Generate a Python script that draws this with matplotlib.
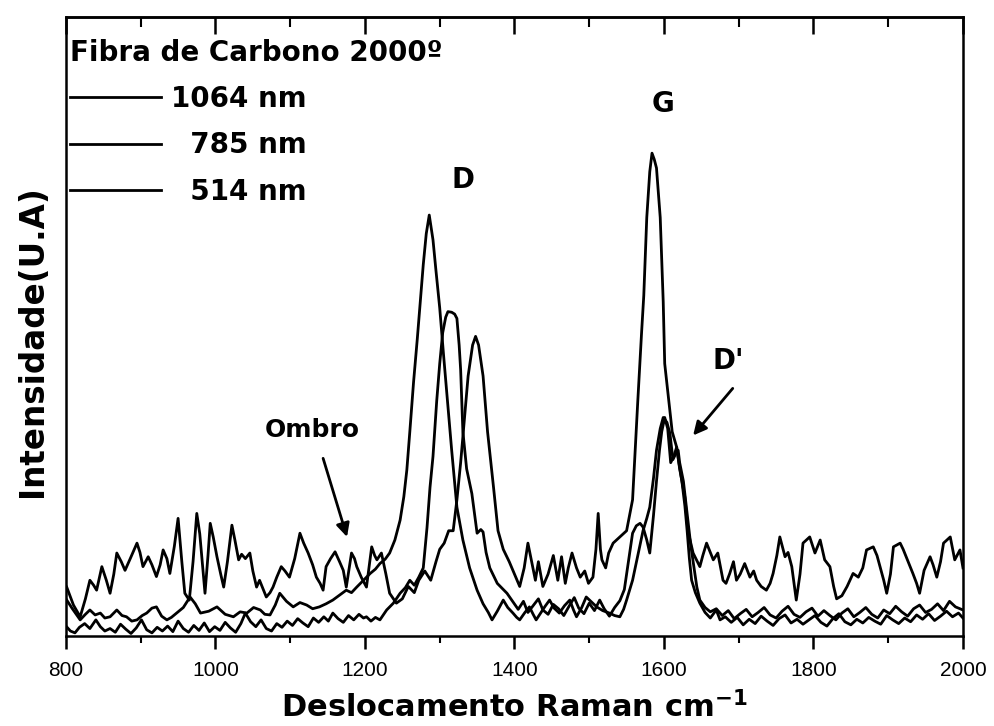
"""Raman spectra of a carbon fibre (2000 C) at three excitation lines."""

import matplotlib

matplotlib.use("Agg")
import matplotlib.pyplot as plt
from matplotlib.ticker import MultipleLocator

# 1064 nm excitation: D band ~1285, weak G near 1600
WN_1064 = [
    800, 808, 819, 826, 832, 839, 846, 852, 859, 868,
    875, 881, 888, 895, 902, 908, 915, 921, 928, 935,
    941, 948, 957, 966, 973, 980, 991, 1002, 1013, 1024,
    1033, 1042, 1051, 1060, 1066, 1073, 1080, 1086, 1095, 1104,
    1113, 1122, 1130, 1139, 1148, 1157, 1166, 1175, 1182, 1189,
    1198, 1207, 1214, 1220, 1227, 1233, 1240, 1247, 1252, 1256,
    1260, 1265, 1270, 1274, 1278, 1282, 1286, 1291, 1295, 1300,
    1305, 1310, 1316, 1323, 1331, 1340, 1350, 1358, 1365, 1370,
    1377, 1385, 1391, 1398, 1403, 1407, 1414, 1420, 1425, 1429,
    1436, 1441, 1447, 1453, 1460, 1467, 1474, 1479, 1483, 1490,
    1496, 1503, 1510, 1518, 1527, 1534, 1541, 1546, 1550, 1558,
    1565, 1572, 1577, 1581, 1586, 1590, 1595, 1599, 1604, 1608,
    1612, 1616, 1619, 1621, 1626, 1631, 1636, 1640, 1644, 1648,
    1655, 1662, 1670, 1678, 1686, 1694, 1702, 1710, 1718, 1726,
    1734, 1742, 1750, 1758, 1766, 1774, 1782, 1790, 1798, 1806,
    1814, 1822, 1830, 1838, 1846, 1854, 1862, 1870, 1878, 1886,
    1894, 1902, 1910, 1918, 1926, 1934, 1942, 1950, 1958, 1966,
    1974, 1982, 1990, 2000,
]
INT_1064 = [
    6.0, 4.5, 2.6, 3.5, 4.2, 3.4, 3.7, 2.9, 3.1, 4.2,
    3.3, 3.1, 2.4, 2.6, 3.3, 3.7, 4.5, 4.7, 3.2, 2.6,
    3.0, 3.7, 4.6, 6.3, 5.2, 3.7, 4.0, 4.7, 3.5, 3.1,
    3.9, 3.7, 4.6, 4.2, 3.5, 3.4, 5.0, 6.9, 5.6, 4.7,
    5.4, 5.0, 4.4, 4.7, 5.2, 5.8, 6.6, 7.4, 7.0, 7.9,
    9.0, 10.1, 10.8, 11.7, 12.4, 13.4, 15.5, 18.7, 22.5, 26.8,
    33.0, 41.0, 48.0, 54.0, 60.0, 65.0, 68.0, 64.0, 59.0, 53.0,
    45.6, 38.5, 30.0, 20.8, 15.5, 11.0, 7.4, 5.2, 3.8, 2.6,
    4.0, 5.8, 4.6, 3.7, 3.0, 2.6, 3.8, 4.7, 3.5, 2.6,
    3.9, 4.8, 5.8, 4.5, 3.7, 4.9, 5.8, 4.2, 3.1, 4.6,
    6.3, 5.5, 4.7, 4.1, 3.7, 3.3, 3.1, 4.3, 5.8, 9.0,
    13.0, 17.0, 19.0, 20.8, 25.5, 30.0, 33.5, 35.3, 34.5, 32.7,
    28.5, 29.5, 30.0, 28.0, 25.0, 19.8, 14.5, 11.2, 7.9, 5.8,
    4.6, 3.9, 4.4, 3.3, 4.1, 2.8, 3.6, 4.3, 3.1, 3.8,
    4.6, 3.4, 2.9, 4.0, 4.8, 3.5, 3.0, 3.9, 4.5, 3.2,
    4.1, 3.3, 2.6, 3.7, 4.4, 3.1, 3.8, 4.6, 3.5, 2.9,
    4.2, 3.6, 4.8, 3.9, 3.2, 4.4, 5.0, 3.8, 4.3, 5.2,
    4.1, 5.6, 4.7, 4.2,
]

# 785 nm excitation: D band ~1310, weak G near 1600, quiet baseline
WN_785 = [
    800, 806, 812, 818, 825, 832, 840, 846, 852, 859,
    866, 873, 880, 887, 894, 901, 908, 915, 922, 929,
    936, 943, 950, 957, 964, 971, 978, 985, 992, 999,
    1006, 1013, 1020, 1027, 1034, 1040, 1047, 1054, 1061, 1068,
    1075, 1082, 1089, 1096, 1103, 1110, 1117, 1124, 1131, 1138,
    1145, 1151, 1157, 1164, 1171, 1178, 1185, 1192, 1198, 1202,
    1208, 1214, 1220, 1229, 1238, 1247, 1254, 1260, 1266, 1272,
    1278, 1283, 1287, 1291, 1296, 1300, 1304, 1308, 1311, 1316,
    1320, 1323, 1326, 1328, 1331, 1336, 1343, 1350, 1355, 1358,
    1362, 1367, 1377, 1390, 1398, 1405, 1412, 1418, 1425, 1432,
    1438, 1445, 1452, 1459, 1466, 1473, 1480, 1486, 1493, 1500,
    1507, 1514, 1520, 1527, 1534, 1541, 1547, 1553, 1558, 1563,
    1568, 1572, 1577, 1581, 1586, 1590, 1594, 1597, 1601, 1605,
    1609, 1613, 1617, 1620, 1624, 1628, 1631, 1634, 1637, 1642,
    1648, 1655, 1662, 1670, 1675, 1682, 1690, 1698, 1706, 1714,
    1722, 1730, 1738, 1746, 1754, 1762, 1770, 1778, 1786, 1794,
    1802, 1810, 1818, 1826, 1834, 1842, 1850, 1858, 1866, 1874,
    1882, 1890, 1898, 1906, 1914, 1922, 1930, 1938, 1946, 1954,
    1962, 1970, 1978, 1986, 1994, 2000,
]
INT_785 = [
    1.6, 0.8, 0.5, 1.4, 2.0, 1.2, 2.6, 1.5, 0.8, 1.2,
    0.6, 1.9, 1.1, 0.4, 1.3, 2.6, 1.0, 0.5, 1.4, 0.8,
    1.6, 0.7, 2.4, 1.2, 0.6, 1.7, 0.9, 2.1, 0.7, 1.5,
    0.9, 2.2, 1.3, 0.6, 2.0, 3.7, 2.3, 1.5, 2.6, 1.2,
    0.8, 2.0, 1.4, 2.4, 1.7, 2.8, 2.1, 1.5, 2.9, 2.2,
    3.1, 2.4, 3.7, 2.8, 2.2, 3.3, 2.6, 3.5, 2.9, 3.1,
    2.4, 3.0, 2.6, 4.2, 5.3, 6.9, 7.8, 9.0, 8.2, 9.5,
    11.0, 17.5, 24.0, 29.0, 38.0, 44.0, 49.0, 51.5, 52.4, 52.3,
    52.0, 51.3, 47.0, 43.0, 33.0, 27.0, 23.0, 16.6, 17.2, 16.8,
    13.5, 11.0, 8.5, 6.9, 5.5, 4.3, 5.6, 3.8, 4.9, 6.0,
    4.2, 3.5, 5.1, 4.4, 3.3, 4.8, 6.2, 4.5, 3.6, 5.3,
    4.1, 5.8, 4.4, 3.2, 4.6, 5.7, 7.5, 12.5, 16.6, 17.8,
    18.2, 17.6, 15.5, 13.4, 19.5, 25.0, 30.0, 33.0, 35.3, 33.5,
    28.0, 29.0, 30.5, 28.0, 25.0, 21.0, 17.0, 12.5, 9.0, 7.0,
    5.3, 3.8, 2.9, 4.2, 2.6, 3.1, 2.2, 3.0, 1.8, 2.7,
    2.0, 3.2, 2.4, 1.7, 2.8, 3.4, 2.1, 2.7, 1.9, 2.6,
    3.3, 2.2, 1.6, 2.8, 3.6, 2.3, 1.8, 2.7, 2.1, 3.0,
    2.4, 1.9, 3.3, 2.6, 2.0, 2.9, 2.3, 3.4, 2.7, 3.6,
    2.5, 3.2, 4.0, 3.1, 3.7, 2.9,
]

# 514 nm excitation: D band ~1350, strong G at ~1584, noisy baseline
WN_514 = [
    801, 810, 819, 826, 832, 837, 841, 848, 854, 859,
    864, 868, 874, 879, 886, 895, 899, 903, 910, 915,
    921, 926, 930, 935, 939, 945, 950, 955, 959, 965,
    970, 975, 979, 983, 986, 990, 993, 997, 1002, 1007,
    1011, 1016, 1022, 1026, 1031, 1035, 1040, 1046, 1050, 1055,
    1059, 1064, 1068, 1073, 1077, 1082, 1088, 1093, 1099, 1106,
    1113, 1118, 1124, 1130, 1135, 1140, 1144, 1148, 1154, 1160,
    1166, 1171, 1175, 1182, 1186, 1189, 1195, 1202, 1209, 1213,
    1216, 1222, 1228, 1233, 1242, 1250, 1258, 1266, 1272, 1280,
    1288, 1295, 1300, 1306, 1312, 1318, 1323, 1328, 1333, 1338,
    1344, 1348, 1352, 1358, 1364, 1372, 1378, 1385, 1393, 1400,
    1407, 1413, 1418, 1423, 1428, 1432, 1438, 1445, 1452, 1458,
    1463, 1468, 1472, 1477, 1483, 1488, 1494, 1499, 1505, 1509,
    1512, 1515, 1517, 1522, 1526, 1532, 1541, 1550, 1558, 1565,
    1570, 1573, 1577, 1581, 1584, 1587, 1590, 1595, 1599, 1601,
    1606, 1611, 1617, 1621, 1628, 1632, 1639, 1648, 1652, 1657,
    1662, 1666, 1672, 1679, 1683, 1688, 1693, 1697, 1702, 1708,
    1715, 1720, 1724, 1730, 1737, 1742, 1746, 1751, 1755, 1762,
    1766, 1771, 1777, 1782, 1786, 1795, 1802, 1809, 1815, 1822,
    1827, 1831, 1838, 1845, 1853, 1860, 1866, 1871, 1880, 1885,
    1889, 1894, 1898, 1903, 1907, 1916, 1920, 1924, 1933, 1938,
    1942, 1948, 1956, 1960, 1965, 1970, 1974, 1983, 1989, 1996,
    2000,
]
INT_514 = [
    7.9, 5.0, 3.1, 6.0, 9.0, 8.2, 7.4, 11.2, 9.0, 6.9,
    10.0, 13.4, 12.0, 10.6, 12.5, 15.0, 13.5, 11.2, 12.8, 11.5,
    9.6, 11.5, 13.9, 12.5, 10.1, 14.5, 19.0, 12.0, 6.9, 5.8,
    12.0, 19.8, 16.5, 11.0, 6.9, 13.0, 18.2, 16.0, 12.8, 10.0,
    7.9, 12.0, 17.9, 15.5, 12.3, 13.2, 12.5, 13.4, 10.5, 7.9,
    9.0, 7.5, 6.3, 7.0, 7.9, 9.5, 11.2, 10.5, 9.5, 12.5,
    16.6, 15.0, 13.4, 11.5, 9.5, 8.5, 7.4, 11.2, 12.5, 13.6,
    12.0, 10.6, 7.9, 13.4, 12.5, 11.2, 9.5, 7.9, 14.4, 13.0,
    12.3, 13.4, 10.0, 6.9, 5.3, 6.0, 8.0, 7.0, 9.0, 10.5,
    9.0, 12.0, 14.0, 15.0, 17.0, 17.0, 22.0, 28.0, 35.0, 42.0,
    47.0, 48.4, 47.0, 42.0, 33.0, 24.0, 17.0, 14.0, 12.0, 10.0,
    8.0, 11.0, 15.0, 12.0, 9.0, 12.0, 8.0, 10.0, 13.0, 9.0,
    12.8, 8.5, 11.0, 13.4, 11.0, 9.5, 10.5, 8.5, 9.5, 14.0,
    19.8, 14.0, 12.3, 11.0, 13.4, 15.0, 16.0, 17.0, 22.0, 38.0,
    48.9, 55.0, 67.6, 75.0, 78.0, 77.0, 75.6, 67.6, 54.0, 44.0,
    38.5, 33.0, 30.5, 27.0, 22.4, 17.0, 13.4, 11.2, 13.0, 15.0,
    13.5, 12.3, 13.4, 9.0, 8.5, 10.1, 12.0, 9.0, 10.0, 11.7,
    9.5, 10.5, 9.0, 8.0, 7.4, 8.5, 10.1, 13.0, 16.0, 12.8,
    13.5, 11.2, 5.8, 10.0, 15.0, 16.0, 13.4, 15.5, 12.3, 11.2,
    8.0, 6.0, 6.5, 8.0, 10.1, 9.5, 11.0, 13.9, 14.4, 13.0,
    11.2, 9.0, 6.9, 10.0, 14.4, 15.0, 14.0, 12.8, 10.1, 8.5,
    6.9, 10.6, 12.8, 11.5, 9.5, 12.0, 15.0, 16.0, 12.3, 13.9,
    11.0,
]

SERIES = [
    (WN_1064, INT_1064, "1064 nm"),
    (WN_785, INT_785, "\u2007785 nm"),
    (WN_514, INT_514, "\u2007514 nm"),
]

BOLD = {"family": "DejaVu Sans", "weight": "bold"}


def render(out):
    fig = plt.figure(figsize=(9.95, 7.26), dpi=100)
    ax = fig.add_axes([0.0663, 0.124, 0.9015, 0.8526])

    handles = []
    for wn, inten, label in SERIES:
        (ln,) = ax.plot(wn, inten, color="black", lw=2.0, label=label,
                        solid_joinstyle="round")
        handles.append(ln)

    ax.set_xlim(800, 2000)
    ax.set_ylim(0, 100)
    ax.set_yticks([])

    ax.xaxis.set_major_locator(MultipleLocator(200))
    ax.xaxis.set_minor_locator(MultipleLocator(100))
    ax.tick_params(axis="x", which="major", direction="out", length=9,
                   width=1.8, pad=9, labelsize=15,
                   labelfontfamily="Liberation Sans")
    ax.tick_params(axis="x", which="minor", direction="out", length=5,
                   width=1.5)

    top = ax.secondary_xaxis("top")
    top.xaxis.set_major_locator(MultipleLocator(200))
    top.xaxis.set_minor_locator(MultipleLocator(100))
    top.tick_params(axis="x", which="major", direction="in", length=12,
                    width=1.8, labeltop=False, labelbottom=False)
    top.tick_params(axis="x", which="minor", direction="in", length=7,
                    width=1.5)

    for sp in list(ax.spines.values()) + list(top.spines.values()):
        sp.set_linewidth(1.8)

    ax.set_xlabel(r"Deslocamento Raman cm$^{\mathbf{-1}}$", fontsize=22,
                  labelpad=8, **BOLD)
    ax.set_ylabel("Intensidade(U.A)", fontsize=23.5, **BOLD)
    ax.yaxis.set_label_coords(-0.019, 0.477)

    ax.legend(
        handles=handles,
        title="Fibra de Carbono 2000º",
        loc="upper left",
        bbox_to_anchor=(0.004, 0.965),
        frameon=False,
        alignment="left",
        prop={**BOLD, "size": 20},
        title_fontproperties={**BOLD, "size": 20},
        handlelength=3.3,
        handletextpad=0.35,
        labelspacing=0.66,
        borderpad=0,
        borderaxespad=0,
    )

    # band labels
    ax.text(1331, 73.7, "D", ha="center", va="center", fontsize=20, **BOLD)
    ax.text(1599, 86, "G", ha="center", va="center", fontsize=20, **BOLD)
    ax.text(1686, 44.5, "D'", ha="center", va="center", fontsize=20, **BOLD)
    ax.text(1129, 33.2, "Ombro", ha="center", va="center", fontsize=18, **BOLD)

    arrow = dict(arrowstyle="-|>", color="black", lw=2, mutation_scale=20,
                 shrinkA=0, shrinkB=0)
    ax.annotate("", xy=(1176, 16), xytext=(1144, 28.7), arrowprops=arrow)
    ax.annotate("", xy=(1639, 32.4), xytext=(1692, 40.0), arrowprops=arrow)

    fig.savefig(out, dpi=100, facecolor="white")
    plt.close(fig)


if __name__ == "__main__":
    render("out.png")
